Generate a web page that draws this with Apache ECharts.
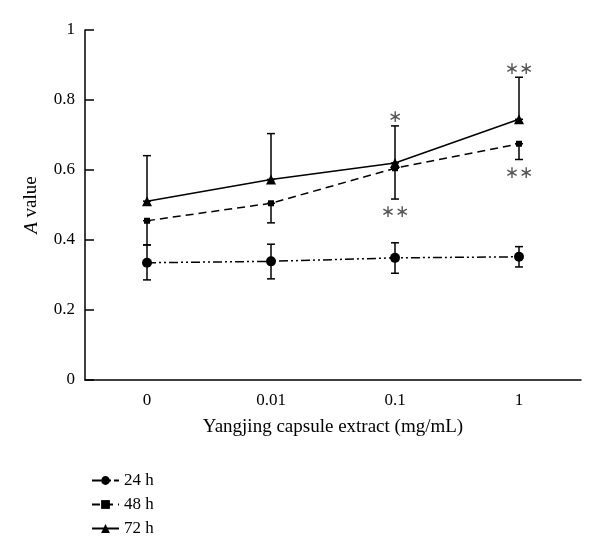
<!DOCTYPE html>
<html>
<head>
<meta charset="utf-8">
<script src="https://cdn.jsdelivr.net/npm/echarts@6/dist/echarts.min.js"></script>
<style>html,body{margin:0;padding:0;background:#fff}#c{width:600px;height:559px}</style>
</head>
<body>
<div id="c"></div>
<script>
var categories = ['0', '0.01', '0.1', '1'];
var mean24 = [0.335, 0.339, 0.349, 0.352];
var low24 = [0.286, 0.289, 0.305, 0.323];
var high24 = [0.386, 0.388, 0.392, 0.381];
var mean48 = [0.455, 0.505, 0.605, 0.675];
var low48 = [0.386, 0.449, 0.517, 0.630];
var mean72 = [0.511, 0.573, 0.620, 0.745];
var high72 = [0.641, 0.704, 0.726, 0.865];
var seriesNames = ['24 h', '48 h', '72 h'];
// significance marks: [category index, anchor value, text, side]
var marks = [
  [2, high72[2], '∗', 'above'],
  [3, high72[3], '∗∗', 'above'],
  [2, low48[2], '∗∗', 'below'],
  [3, low48[3], '∗∗', 'below']
];

var FONT = 'Liberation Serif';
var chart = echarts.init(document.getElementById('c'), null, {renderer: 'canvas'});

function errData(lo, hi) {
  return categories.map(function (c, i) { return [i, lo[i], hi[i]]; });
}
function errSeries(lo, hi) {
  return {
    type: 'custom',
    silent: true,
    z: 1,
    renderItem: function (params, api) {
      var i = api.value(0);
      var p1 = api.coord([i, api.value(1)]);
      var p2 = api.coord([i, api.value(2)]);
      var w = 4;
      var st = {stroke: '#000', lineWidth: 1.5};
      return {
        type: 'group',
        children: [
          {type: 'line', shape: {x1: p1[0], y1: p1[1], x2: p2[0], y2: p2[1]}, style: st},
          {type: 'line', shape: {x1: p1[0] - w, y1: p1[1], x2: p1[0] + w, y2: p1[1]}, style: st},
          {type: 'line', shape: {x1: p2[0] - w, y1: p2[1], x2: p2[0] + w, y2: p2[1]}, style: st}
        ]
      };
    },
    data: errData(lo, hi)
  };
}

var option = {
  backgroundColor: '#fff',
  animation: false,
  grid: {left: 85, right: 19, top: 30, bottom: 179},
  legend: {
    orient: 'vertical',
    left: 86,
    top: 467,
    itemWidth: 27,
    itemHeight: 11,
    itemGap: 7,
    textStyle: {fontFamily: FONT, fontSize: 17, color: '#000'},
    data: seriesNames
  },
  xAxis: {
    type: 'category',
    data: categories,
    boundaryGap: true,
    name: 'Yangjing capsule extract (mg/mL)',
    nameLocation: 'middle',
    nameGap: 38,
    nameTextStyle: {fontFamily: FONT, fontSize: 19, color: '#000'},
    axisLine: {lineStyle: {color: '#000', width: 1.5}},
    axisTick: {inside: true, alignWithLabel: true, length: 9, lineStyle: {color: '#000', width: 1.5}},
    axisLabel: {fontFamily: FONT, fontSize: 17, color: '#000', margin: 12},
    splitLine: {show: false}
  },
  yAxis: {
    type: 'value',
    min: 0, max: 1, interval: 0.2,
    name: '{i|A} value',
    nameLocation: 'middle',
    nameGap: 44,
    nameTextStyle: {fontFamily: FONT, fontSize: 19, color: '#000',
      rich: {i: {fontFamily: FONT, fontSize: 19, fontStyle: 'italic', color: '#000'}}},
    axisLine: {show: true, lineStyle: {color: '#000', width: 1.5}},
    axisTick: {show: true, inside: true, length: 9, lineStyle: {color: '#000', width: 1.5}},
    axisLabel: {fontFamily: FONT, fontSize: 17, color: '#000', margin: 10},
    splitLine: {show: false}
  },
  series: [
    {
      name: seriesNames[0], type: 'line', data: mean24, z: 3,
      symbol: 'circle', symbolSize: 10,
      itemStyle: {color: '#000'},
      lineStyle: {color: '#000', width: 1.5, type: [9, 3, 2, 3, 2, 3]}
    },
    {
      name: seriesNames[1], type: 'line', data: mean48, z: 3,
      symbol: 'rect', symbolSize: 6,
      itemStyle: {color: '#000'},
      lineStyle: {color: '#000', width: 1.5, type: [8, 5]}
    },
    {
      name: seriesNames[2], type: 'line', data: mean72, z: 3,
      symbol: 'triangle', symbolSize: 10,
      itemStyle: {color: '#000'},
      lineStyle: {color: '#000', width: 1.5, type: 'solid'}
    },
    errSeries(low24, high24),
    errSeries(low48, mean48),
    errSeries(mean72, high72),
    {
      type: 'custom',
      silent: true,
      z: 4,
      renderItem: function (params, api) {
        var m = marks[params.dataIndex];
        var p = api.coord([m[0], m[1]]);
        var dy = m[3] === 'above' ? -8 : 14;
        return {
          type: 'text',
          style: {
            text: m[2], x: p[0], y: p[1] + dy,
            fill: '#555', font: '17px "DejaVu Sans"',
            textAlign: 'center', textVerticalAlign: 'middle'
          }
        };
      },
      data: marks.map(function (m) { return [m[0], m[1]]; })
    }
  ]
};
chart.setOption(option);
</script>
</body>
</html>
